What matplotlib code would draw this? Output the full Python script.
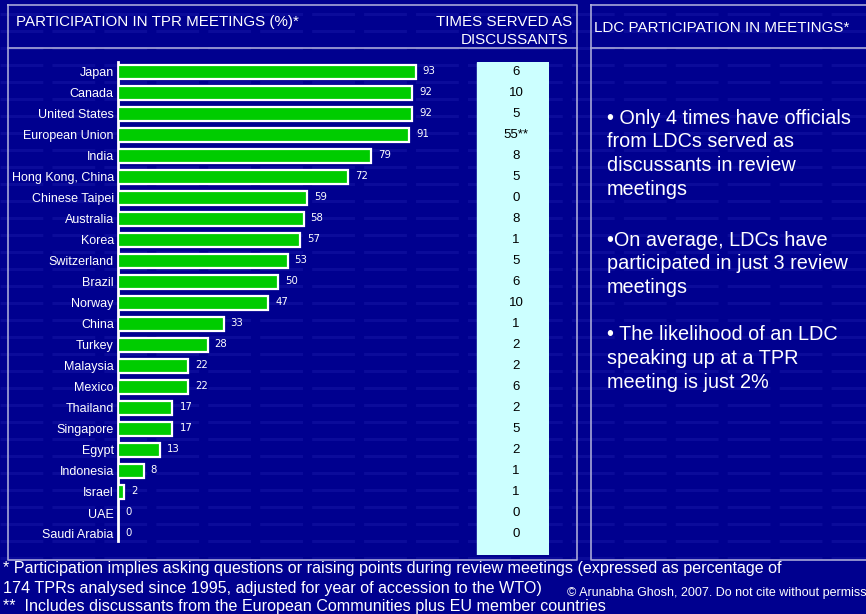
import matplotlib.pyplot as plt
import numpy as np

# Data
countries = ['Japan', 'Canada', 'United States', 'European Union', 'India', 'Hong Kong, China',
             'Chinese Taipei', 'Australia', 'Korea', 'Switzerland', 'Brazil', 'Norway', 'China',
             'Turkey', 'Malaysia', 'Mexico', 'Thailand', 'Singapore', 'Egypt', 'Indonesia',
             'Israel', 'UAE', 'Saudi Arabia']
participation = [93, 92, 92, 91, 79, 72, 59, 58, 57, 53, 50, 47, 33, 28, 22, 22, 17, 17, 13, 8, 2, 0, 0]
discussants = ['6', '10', '5', '55**', '8', '5', '0', '8', '1', '5', '6', '10', '1', '2', '2', '6',
               '2', '5', '2', '1', '1', '0', '0']

bullets = [['\u2022 Only 4 times have officials', 'from LDCs served as',
            'discussants in review', 'meetings'],
           ['\u2022On average, LDCs have', 'participated in just 3 review', 'meetings'],
           ['\u2022 The likelihood of an LDC', 'speaking up at a TPR', 'meeting is just 2%']]

BG = '#00008f'
FRAME = '#a8a8d8'
W, H = 866, 614
plt.rcParams['font.family'] = ['Liberation Sans', 'DejaVu Sans']

fig = plt.figure(figsize=(W / 100, H / 100), dpi=100, facecolor=BG)

# Background layer in pixel coordinates: stripes, panel frames, headings, notes
bg = fig.add_axes([0, 0, 1, 1])
bg.set_xlim(0, W)
bg.set_ylim(H, 0)
bg.axis('off')
bg.set_facecolor(BG)
for y in np.arange(14, 560, 17):
    bg.plot([0, W], [y, y], color='#1a1aa8', lw=2.2, ls=(0, (14, 3)), alpha=0.45, zorder=0)

for x0, x1 in [(8, 577), (591, 880)]:
    bg.plot([x0, x1, x1, x0, x0], [5, 5, 560, 560, 5], color=FRAME, lw=1.2, zorder=1)
    bg.plot([x0, x1], [48, 48], color=FRAME, lw=1.2, zorder=1)

bg.text(16, 22, 'PARTICIPATION IN TPR MEETINGS (%)*', color='white', fontsize=10.9, va='center')
bg.text(572, 22, 'TIMES SERVED AS', color='white', fontsize=10.9, va='center', ha='right')
bg.text(568, 40, 'DISCUSSANTS', color='white', fontsize=10.9, va='center', ha='right')
bg.text(594, 28, 'LDC PARTICIPATION IN MEETINGS*', color='white', fontsize=10.9, va='center')

for y0, lines in zip([118, 240, 335], bullets):
    for i, line in enumerate(lines):
        bg.text(607, y0 + i * 23.7, line, color='white', fontsize=14.3, va='center')

bg.text(3, 568, '* Participation implies asking questions or raising points during review meetings '
        '(expressed as percentage of', color='white', fontsize=11.6, va='center')
bg.text(3, 588, '174 TPRs analysed since 1995, adjusted for year of accession to the WTO)',
        color='white', fontsize=11.6, va='center')
bg.text(3, 607, '**  Includes discussants from the European Communities plus EU member countries',
        color='white', fontsize=11.6, va='center')
bg.text(567, 593, '\u00a9 Arunabha Ghosh, 2007. Do not cite without permission', color='white',
        fontsize=9, va='center')

# Bar chart with the discussants column on the same rows
ax = fig.add_axes([118 / W, 1 - 555 / H, (549 - 118) / W, (555 - 62) / H])
ax.set_facecolor('none')
y = np.arange(len(countries))
px = 3.2  # pixels per percentage point
ax.set_xlim(0, (549 - 118) / px)
ax.set_ylim((555 - 72) / 21, (62 - 72) / 21)

ax.barh(y, participation, height=0.66, color='#00cc00', edgecolor='white', linewidth=1.6, zorder=3)
for yi, v in zip(y, participation):
    ax.text(v + 2.2, yi - 0.06, str(v), color='white', fontsize=7.3, family='DejaVu Sans',
            va='center', ha='left')

col_x0, col_x1 = (477 - 118) / px, (549 - 118) / px
ax.axvspan(col_x0, col_x1, color='#ccffff', zorder=2)
for yi, d in zip(y, discussants):
    ax.text((516 - 118) / px, yi, d, color='black', fontsize=9.5, va='center', ha='center',
            zorder=4)

ax.set_yticks(y)
ax.set_yticklabels(countries, color='white', fontsize=9)
ax.tick_params(axis='y', length=0, pad=3)
ax.set_xticks([])
for s in ['top', 'right', 'bottom']:
    ax.spines[s].set_visible(False)
ax.spines['left'].set_color('white')
ax.spines['left'].set_linewidth(2)
ax.spines['left'].set_bounds(22.35, -0.48)

fig.savefig('out.png', dpi=100, facecolor=BG)
